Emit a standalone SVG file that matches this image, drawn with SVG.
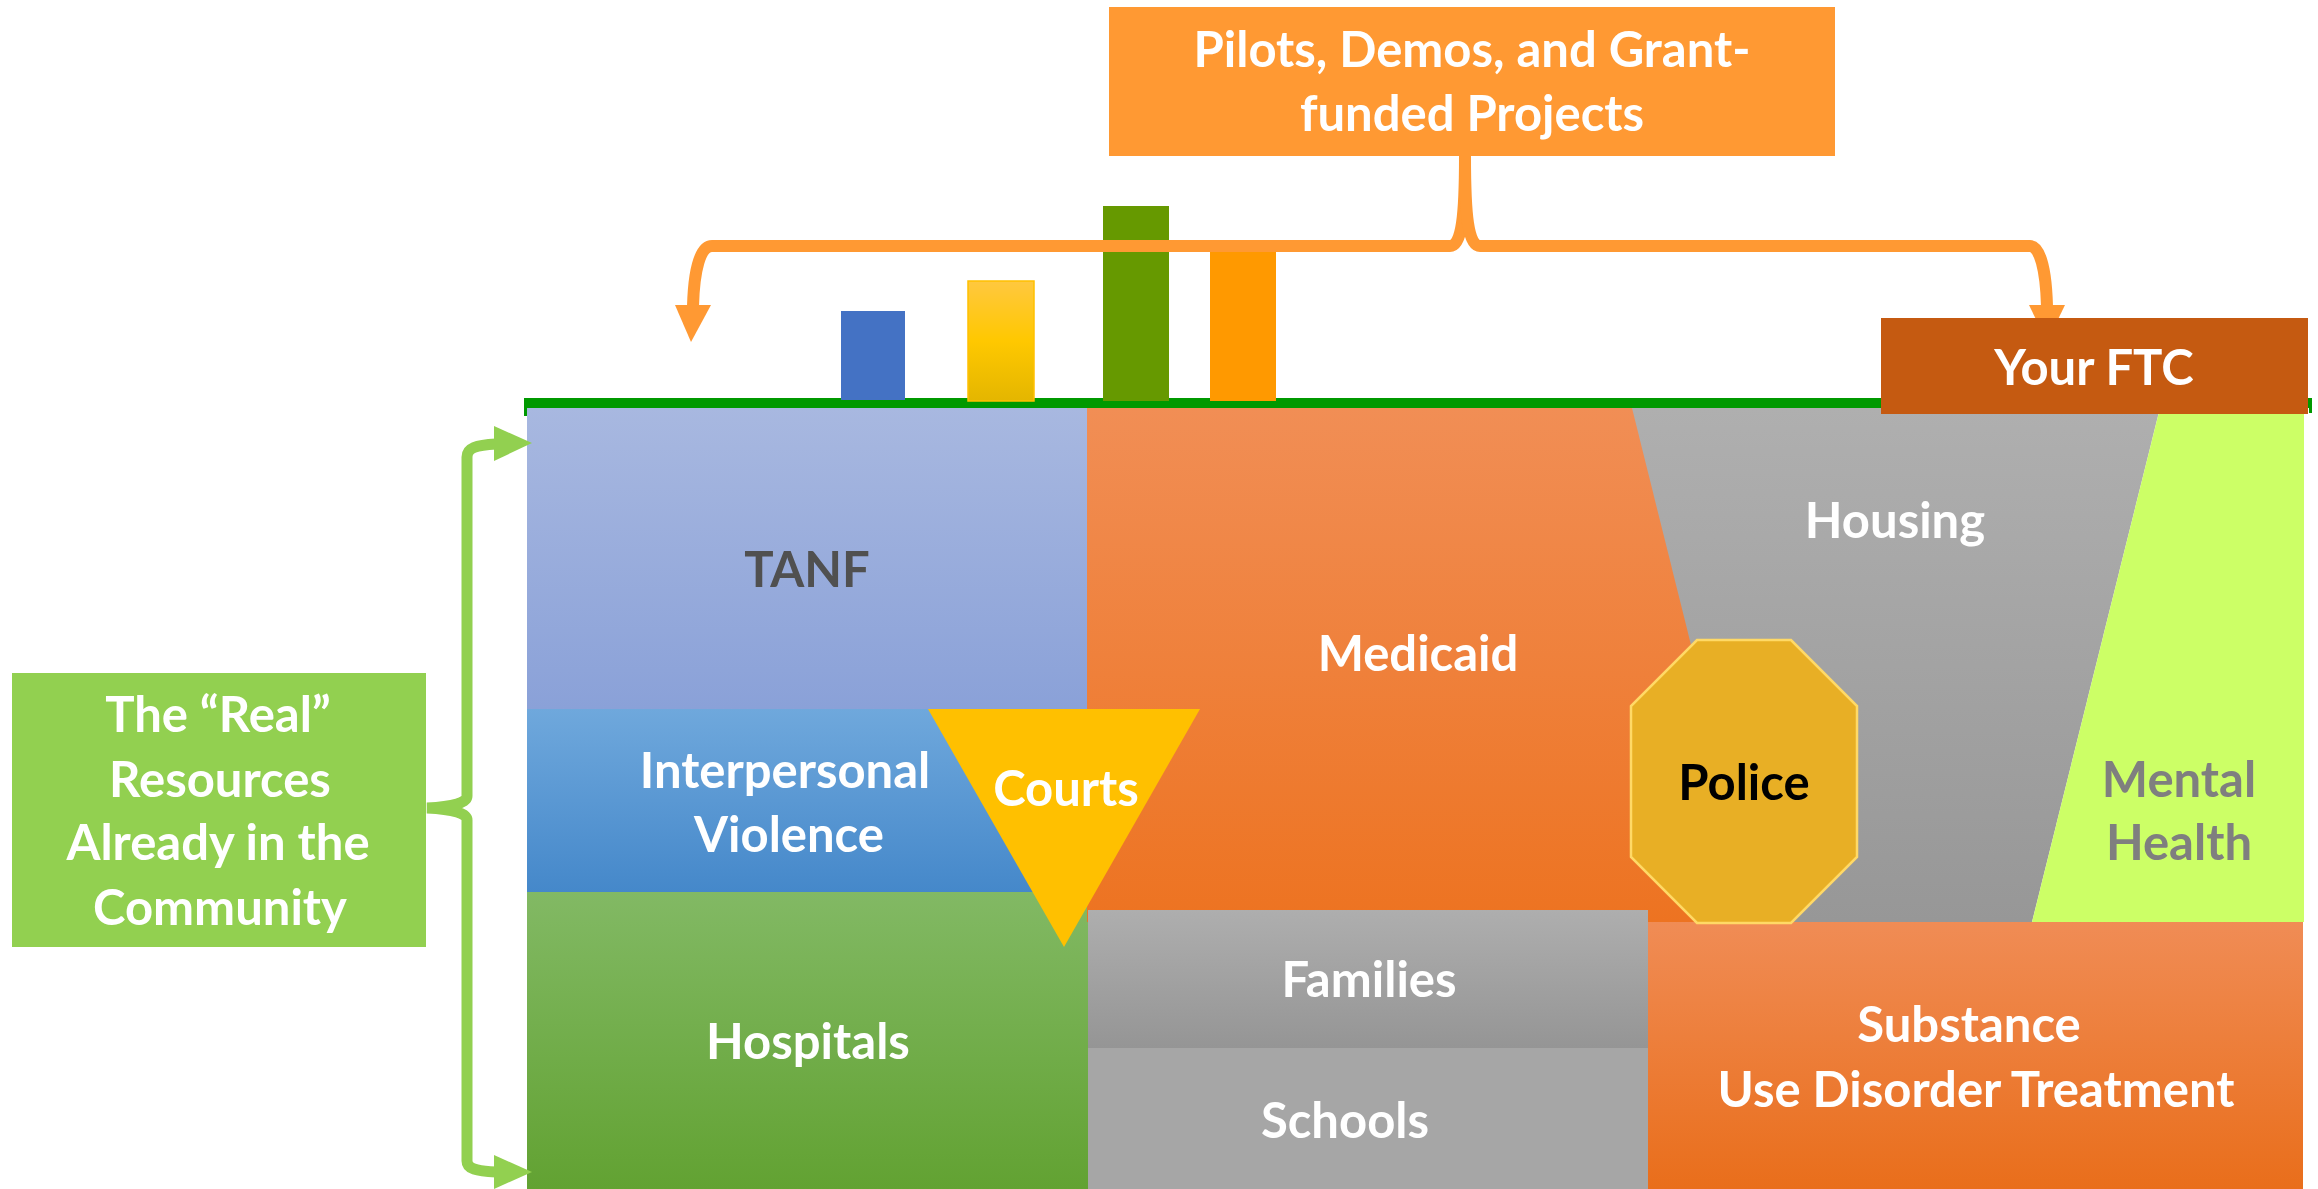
<svg xmlns="http://www.w3.org/2000/svg" width="2318" height="1189" viewBox="0 0 2318 1189">
  <defs>
    <linearGradient id="gTanf" x1="0" y1="0" x2="0" y2="1"><stop offset="0" stop-color="#A8B8E0"/><stop offset="1" stop-color="#8AA1D8"/></linearGradient>
    <linearGradient id="gIpv" x1="0" y1="0" x2="0" y2="1"><stop offset="0" stop-color="#6FA8DC"/><stop offset="1" stop-color="#4588CA"/></linearGradient>
    <linearGradient id="gHosp" x1="0" y1="0" x2="0" y2="1"><stop offset="0" stop-color="#82B964"/><stop offset="1" stop-color="#62A232"/></linearGradient>
    <linearGradient id="gMed" x1="0" y1="0" x2="0" y2="1"><stop offset="0" stop-color="#F18E55"/><stop offset="1" stop-color="#ED7321"/></linearGradient>
    <linearGradient id="gHous" x1="0" y1="0" x2="0" y2="1"><stop offset="0" stop-color="#AFAFAF"/><stop offset="1" stop-color="#979797"/></linearGradient>
    <linearGradient id="gFam" x1="0" y1="0" x2="0" y2="1"><stop offset="0" stop-color="#AEAEAE"/><stop offset="1" stop-color="#959595"/></linearGradient>
    <linearGradient id="gSud" x1="0" y1="0" x2="0" y2="1"><stop offset="0" stop-color="#F08C55"/><stop offset="1" stop-color="#E96E1B"/></linearGradient>
    <linearGradient id="gGold" x1="0" y1="0" x2="0" y2="1"><stop offset="0" stop-color="#FFC83F"/><stop offset="0.5" stop-color="#FFC800"/><stop offset="1" stop-color="#E4B600"/></linearGradient>
  </defs>
  <style>
    text { font-family: Lato, "Open Sans", "Liberation Sans", sans-serif; font-weight: bold; font-size: 49px; text-anchor: middle; fill: #FFFFFF; }
    .dark { fill: #505050; }
    .black { fill: #000000; }
    .grey { fill: #7F7F7F; }
    .orangeLine { fill: none; stroke: #FF9933; stroke-width: 12; stroke-linejoin: round; }
    .greenLine { fill: none; stroke: #92D050; stroke-width: 11; stroke-linejoin: miter; }
  </style>

  <!-- background resource blocks -->
  <g id="tanf">
    <rect x="527" y="408" width="560" height="301" fill="url(#gTanf)"/>
    <text class="dark" x="807" y="587">TANF</text>
  </g>
  <g id="interpersonal-violence">
    <rect x="527" y="709" width="561" height="183" fill="url(#gIpv)"/>
    <text x="785" y="788">Interpersonal</text>
    <text x="789" y="852">Violence</text>
  </g>
  <g id="hospitals">
    <rect x="527" y="892" width="561" height="297" fill="url(#gHosp)"/>
    <text x="808" y="1059">Hospitals</text>
  </g>
  <g id="medicaid">
    <rect x="1087" y="408" width="680" height="514" fill="url(#gMed)"/>
    <text x="1418" y="671">Medicaid</text>
  </g>
  <g id="housing">
    <polygon points="1632,408 2160,408 2032,922 1760,922" fill="url(#gHous)"/>
    <text x="1895" y="538">Housing</text>
  </g>
  <g id="mental-health">
    <polygon points="2160,408 2304,408 2304,922 2032,922" fill="#CCFF66"/>
    <text class="grey" x="2179" y="797">Mental</text>
    <text class="grey" x="2179" y="860">Health</text>
  </g>
  <g id="families">
    <rect x="1088" y="910" width="560" height="138" fill="url(#gFam)"/>
    <text x="1369" y="997">Families</text>
  </g>
  <g id="schools">
    <rect x="1088" y="1048" width="560" height="141" fill="#A6A6A6"/>
    <text x="1345" y="1138">Schools</text>
  </g>
  <g id="substance-use">
    <rect x="1648" y="922" width="655" height="267" fill="url(#gSud)"/>
    <text x="1969" y="1042">Substance</text>
    <text x="1976" y="1107">Use Disorder Treatment</text>
  </g>
  <g id="courts">
    <polygon points="928,709 1200,709 1064,947" fill="#FFC000"/>
    <text x="1066" y="806">Courts</text>
  </g>
  <g id="police">
    <polygon points="1697,640 1791,640 1857,706 1857,857 1791,923 1697,923 1631,857 1631,706" fill="#E8AF25" stroke="#FFD966" stroke-width="2.5"/>
    <text class="black" x="1744" y="800">Police</text>
  </g>

  <!-- ground line and bars -->
  <g id="ground-line">
    <rect x="524" y="398" width="1788" height="10" fill="#009900"/>
    <rect x="524" y="398" width="3" height="18" fill="#009900"/>
    <rect x="2309" y="398" width="3" height="15" fill="#009900"/>
  </g>
  <g id="bars">
    <rect x="841" y="311" width="64" height="89" fill="#4472C4"/>
    <rect x="968" y="281" width="66" height="120" fill="url(#gGold)" stroke="#FFC000" stroke-width="1.5"/>
    <rect x="1103" y="206" width="66" height="195" fill="#669900"/>
    <rect x="1210" y="250" width="66" height="151" fill="#FF9900"/>
  </g>

  <!-- connectors -->
  <g id="connectors">
    <path class="orangeLine" d="M1465,156 C1465,215 1462,246 1450,246 H712 C700,246 694,270 693,306"/>
    <path class="orangeLine" d="M1465,156 C1465,215 1468,246 1480,246 H2030 C2040,246 2046,270 2047,306"/>
    <polygon points="675,305 711,305 691,342" fill="#FF9933"/>
    <polygon points="2029,305 2065,305 2047,342" fill="#FF9933"/>
    <path class="greenLine" d="M496,444 C476,445 467,448 467,457 V796 Q467,806 427,808 Q467,810 467,820 V1161 C467,1169 476,1171 496,1172"/>
    <polygon points="494,426 532,443 494,461" fill="#92D050"/>
    <polygon points="494,1155 532,1172 494,1189" fill="#92D050"/>
  </g>

  <!-- labels -->
  <g id="pilots">
    <rect x="1109" y="7" width="726" height="149" fill="#FF9933"/>
    <text x="1472" y="67">Pilots, Demos, and Grant-</text>
    <text x="1472" y="131">funded Projects</text>
  </g>
  <g id="your-ftc">
    <rect x="1881" y="318" width="427" height="96" fill="#C55A11"/>
    <text x="2094" y="385">Your FTC</text>
  </g>
  <g id="real-resources">
    <rect x="12" y="673" width="414" height="274" fill="#92D050"/>
    <text x="218" y="732">The “Real”</text>
    <text x="220" y="797">Resources</text>
    <text x="218" y="860">Already in the</text>
    <text x="220" y="925">Community</text>
  </g>
</svg>
